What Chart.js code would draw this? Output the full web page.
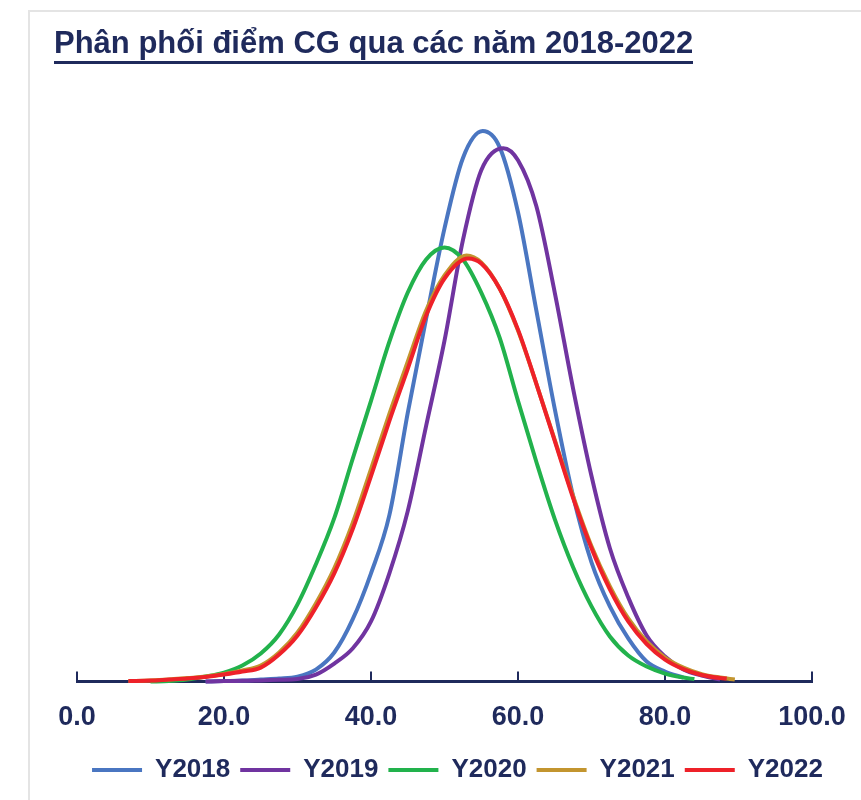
<!DOCTYPE html>
<html>
<head>
<meta charset="utf-8">
<script src="https://cdn.jsdelivr.net/npm/chart.js@4.4.1/dist/chart.umd.min.js"></script>
<style>
  html, body { margin: 0; padding: 0; background: #fff; }
  #wrap { position: relative; width: 861px; height: 800px; overflow: hidden; }
  #frame { position: absolute; left: 28px; top: 10px; width: 900px; height: 900px;
           border-top: 2px solid #e4e4e4; border-left: 2px solid #e4e4e4; }
  #title { position: absolute; left: 54px; top: 27px; margin: 0;
           font: bold 31px "Liberation Sans", Arial, sans-serif; line-height: 31px;
           color: #1f2a5c; padding-bottom: 3px; border-bottom: 3px solid #1f2a5c; white-space: nowrap; }
  canvas { position: absolute; left: 0; top: 0; }
</style>
</head>
<body>
<div id="wrap">
  <div id="frame"></div>
  <canvas id="chart" width="861" height="800"></canvas>
  <div id="title">Phân phối điểm CG qua các năm 2018-2022</div>
</div>
<script>
// score distribution per year, x = score, y = relative frequency
const seriesNames = ["Y2018", "Y2019", "Y2020", "Y2021", "Y2022"];
const seriesColors = ["#4a76c1", "#7034a0", "#22b24c", "#c3952f", "#ee2129"];

const xs2018 = [17.5, 20, 22.5, 25, 27.5, 30, 32.5, 35, 37.5, 40, 42.5, 45, 47.5, 50, 52.5, 55.2, 57.5, 60, 62.5, 65, 67.5, 70, 72.5, 75, 77.5, 80, 82.5];
const ys2018 = [0, 0.005, 0.01, 0.02, 0.03, 0.05, 0.12, 0.29, 0.62, 1.08, 1.66, 2.68, 3.62, 4.52, 5.22, 5.49, 5.33, 4.68, 3.70, 2.72, 1.85, 1.19, 0.75, 0.43, 0.20, 0.10, 0.04];

const xs2019 = [17.5, 20, 22.5, 25, 27.5, 30, 32.5, 35, 37.5, 40, 42.5, 45, 47.5, 50, 52.5, 55, 58, 60, 62.5, 65, 67.5, 70, 72.5, 75, 77.5, 80, 82.5, 85, 87.5];
const ys2019 = [0, 0.005, 0.008, 0.012, 0.018, 0.025, 0.07, 0.18, 0.33, 0.60, 1.08, 1.70, 2.55, 3.40, 4.40, 5.10, 5.32, 5.20, 4.74, 3.88, 2.92, 2.05, 1.33, 0.84, 0.46, 0.25, 0.12, 0.06, 0.02];

const xs2020 = [10, 12.5, 15, 17.5, 20, 22.5, 25, 27.5, 30, 32.5, 35, 37.5, 40, 42.5, 45, 47.5, 50, 52.5, 55, 57.5, 60, 62.5, 65, 67.5, 70, 72.5, 75, 77.5, 80, 82.5, 84];
const ys2020 = [0, 0.005, 0.02, 0.05, 0.09, 0.16, 0.28, 0.47, 0.77, 1.17, 1.63, 2.22, 2.80, 3.39, 3.88, 4.21, 4.33, 4.21, 3.88, 3.43, 2.80, 2.19, 1.62, 1.14, 0.75, 0.45, 0.26, 0.15, 0.08, 0.04, 0.025];

const xs2021 = [7, 10, 12.5, 15, 17.5, 20, 22.5, 25, 27.5, 30, 32.5, 35, 37.5, 40, 42.5, 45, 47.5, 50, 53, 55, 57.5, 60, 62.5, 65, 67.5, 70, 72.5, 75, 77.5, 80, 82.5, 85, 87.5, 89.5];
const ys2021 = [0.005, 0.01, 0.02, 0.035, 0.05, 0.075, 0.11, 0.16, 0.29, 0.49, 0.78, 1.13, 1.58, 2.12, 2.67, 3.19, 3.70, 4.05, 4.25, 4.18, 3.92, 3.50, 2.97, 2.41, 1.85, 1.35, 0.95, 0.63, 0.40, 0.24, 0.14, 0.075, 0.04, 0.02];

const xs2022 = [7, 10, 12.5, 15, 17.5, 20, 22.5, 25, 27.5, 30, 32.5, 35, 37.5, 40, 42.5, 45, 47.5, 50, 53.2, 55, 57.5, 60, 62.5, 65, 67.5, 70, 72.5, 75, 77.5, 80, 82.5, 85, 87.5, 88.4];
const ys2022 = [0.005, 0.01, 0.02, 0.03, 0.045, 0.07, 0.10, 0.14, 0.27, 0.46, 0.74, 1.08, 1.52, 2.05, 2.60, 3.12, 3.65, 4.02, 4.22, 4.17, 3.92, 3.51, 2.97, 2.40, 1.83, 1.33, 0.92, 0.60, 0.375, 0.22, 0.125, 0.066, 0.035, 0.03];

const xTicks = [0, 20, 40, 60, 80, 100];

const allX = [xs2018, xs2019, xs2020, xs2021, xs2022];
const allY = [ys2018, ys2019, ys2020, ys2021, ys2022];

const navy = "#1f2a5c";
const fontFamily = '"Liberation Sans", Arial, sans-serif';

// small tick marks pointing up from the axis line
const upTicks = {
  id: "upTicks",
  beforeDatasetsDraw(chart) {
    const ctx = chart.ctx;
    const xs = chart.scales.x;
    const bottom = chart.chartArea.bottom;
    ctx.save();
    ctx.strokeStyle = navy;
    ctx.lineWidth = 2;
    xTicks.forEach(v => {
      const px = Math.round(xs.getPixelForValue(v));
      ctx.beginPath();
      ctx.moveTo(px, bottom);
      ctx.lineTo(px, bottom - 10);
      ctx.stroke();
    });
    ctx.restore();
  }
};

const datasets = seriesNames.map((name, i) => ({
  label: name,
  data: allX[i].map((x, j) => ({ x: x, y: allY[i][j] })),
  borderColor: seriesColors[i],
  backgroundColor: seriesColors[i],
  borderWidth: 4,
  pointRadius: 0,
  cubicInterpolationMode: "monotone",
  clip: false,
  order: seriesNames.length - i
}));

// hidden side axes only reserve room so the legend can use the full width
const spacer = (w, pos) => ({
  display: true,
  position: pos,
  min: 0,
  max: 5.8,
  ticks: { display: false },
  grid: { display: false, drawTicks: false },
  border: { display: false },
  afterFit: (scale) => { scale.width = w; }
});

new Chart(document.getElementById("chart"), {
  type: "line",
  data: { datasets: datasets },
  options: {
    responsive: false,
    animation: false,
    layout: { padding: { left: 60, right: 6, top: 100, bottom: 7 } },
    scales: {
      x: {
        type: "linear",
        min: 0,
        max: 100,
        afterBuildTicks: (scale) => { scale.ticks = xTicks.map(v => ({ value: v })); },
        afterFit: (scale) => {
          scale.height -= 7;
          scale.paddingLeft = 0;
          scale.paddingRight = 0;
        },
        grid: { display: false, drawTicks: false },
        border: { display: true, color: navy, width: 3 },
        ticks: {
          padding: 20,
          maxRotation: 0,
          color: navy,
          font: { family: fontFamily, size: 27, weight: "bold" },
          callback: (v) => Number(v).toFixed(1)
        }
      },
      y: spacer(17, "left"),
      y2: spacer(43, "right")
    },
    plugins: {
      legend: {
        position: "bottom",
        reverse: true,
        labels: {
          usePointStyle: true,
          pointStyle: "line",
          pointStyleWidth: 50,
          color: navy,
          padding: 10,
          font: { family: fontFamily, size: 26, weight: "bold" }
        }
      },
      tooltip: { enabled: false }
    }
  },
  plugins: [upTicks]
});
</script>
</body>
</html>
